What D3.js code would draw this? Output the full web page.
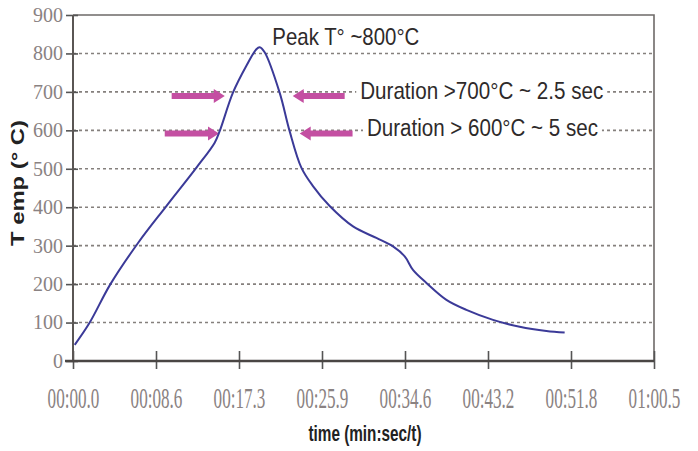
<!DOCTYPE html>
<html>
<head>
<meta charset="utf-8">
<script src="https://cdn.jsdelivr.net/npm/d3@7"></script>
<style>
  html, body { margin: 0; padding: 0; background: #fff; }
  svg { display: block; }
</style>
</head>
<body>
<svg id="chart" width="698" height="451"></svg>
<script>
// temperature trace (time in s, temp in °C)
const timeSec = [0.18, 1.74, 3.85, 6.77, 9.72, 12.85, 14.75, 15.27, 16.65, 18.05, 19.09, 19.43, 19.95,
  21.51, 22.55, 23.77, 24.98, 26.72, 29.15, 31.58, 33.31, 34.53, 35.39, 36.79, 38.87, 40.95, 43.72,
  46.5, 49.28, 51.18];
const tempC = [42, 100, 198, 307, 403, 503, 568, 598, 698, 768, 811, 816, 803,
  698, 598, 503, 455, 403, 350, 320, 298, 272, 237, 203, 159, 133, 107,
  89, 78, 74];

// Excel-style time axis: one tick per 0.0001 day
const xTickValues = [0, 8.64, 17.28, 25.92, 34.56, 43.2, 51.84, 60.48];
const xTickLabels = ['00:00.0', '00:08.6', '00:17.3', '00:25.9', '00:34.6', '00:43.2', '00:51.8', '01:00.5'];
const yTickValues = [0, 100, 200, 300, 400, 500, 600, 700, 800, 900];

// annotation arrows: [from time, to time (tip), temp]
const arrows = [
  [10.27, 15.8, 689],
  [28.28, 22.87, 689],
  [9.55, 15.2, 592],
  [29.1, 23.6, 592]
];
const notes = [
  { text: 'Peak T\u00b0 ~800\u00b0C', t: 20.75, v: 823, len: 147, size: 24, box: false },
  { text: 'Duration >700\u00b0C ~ 2.5 sec', t: 29.9, v: 681, len: 243, size: 24, box: true },
  { text: 'Duration > 600\u00b0C ~ 5 sec', t: 30.6, v: 585, len: 231, size: 23, box: true }
];

const W = 698, H = 451;
const margin = { top: 15, right: 44, bottom: 90, left: 73 };
const iw = W - margin.left - margin.right;
const ih = H - margin.top - margin.bottom;

const svg = d3.select('#chart');
const g = svg.append('g').attr('transform', `translate(${margin.left},${margin.top})`);

const x = d3.scaleLinear().domain([0, 60.48]).range([0, iw]);
const y = d3.scaleLinear().domain([0, 900]).range([ih, 0]);

// --- Grid ---
g.append('g').selectAll('line')
  .data(yTickValues.filter(v => v > 0 && v < 900))
  .join('line')
  .attr('x1', 0).attr('x2', iw)
  .attr('y1', d => y(d)).attr('y2', d => y(d))
  .attr('stroke', '#85807d').attr('stroke-width', 1.6)
  .attr('stroke-dasharray', '3,3');

// frame top/right
g.append('path')
  .attr('d', `M0,0H${iw}V${ih}`)
  .attr('fill', 'none').attr('stroke', '#6e6a68').attr('stroke-width', 1.6);

// --- Arrows ---
const arrowColor = '#c44fa2';
arrows.forEach(([t0, t1, v]) => {
  const x0 = x(t0), x1 = x(t1), yy = y(v);
  const dir = x1 > x0 ? 1 : -1;
  const hl = 11, hh = 7, bw = 3;
  const xb = x1 - dir * hl;
  g.append('path')
    .attr('d', `M${x0},${yy - bw}L${xb},${yy - bw}L${xb},${yy - hh}L${x1},${yy}L${xb},${yy + hh}L${xb},${yy + bw}L${x0},${yy + bw}Z`)
    .attr('fill', arrowColor);
});

// --- Line ---
const pts = timeSec.map((t, i) => [t, tempC[i]]);
g.append('path')
  .datum(pts)
  .attr('fill', 'none')
  .attr('stroke', '#3b3a98')
  .attr('stroke-width', 2)
  .attr('stroke-linejoin', 'round')
  .attr('d', d3.line().x(d => x(d[0])).y(d => y(d[1])).curve(d3.curveCatmullRom.alpha(0.5)));

// --- Axes ---
const serif = '"Liberation Serif", "DejaVu Serif", serif';
const yAxis = g.append('g').call(d3.axisLeft(y).tickValues(yTickValues).tickSize(7).tickPadding(3));
yAxis.select('.domain').remove();
yAxis.selectAll('.tick line').attr('x2', 5).attr('x1', -7).attr('stroke', '#555').attr('stroke-width', 1.6);
yAxis.selectAll('.tick text')
  .attr('font-family', serif)
  .attr('font-size', 20).attr('fill', '#8a8282')
  .attr('x', -10);

const xAxis = g.append('g').attr('transform', `translate(0,${ih})`)
  .call(d3.axisBottom(x).tickValues(xTickValues).tickFormat((d, i) => xTickLabels[i]).tickSize(8));
xAxis.select('.domain').remove();
xAxis.selectAll('.tick line').attr('y1', -10).attr('y2', 8).attr('stroke', '#555').attr('stroke-width', 1.6);
xAxis.selectAll('.tick text')
  .attr('font-family', serif)
  .attr('font-size', 29).attr('fill', '#8a8282')
  .attr('y', 0).attr('dy', null)
  .attr('transform', 'translate(0,47) scale(0.59,1)');

// axis lines
g.append('line').attr('x1', 0).attr('x2', 0).attr('y1', 0).attr('y2', ih)
  .attr('stroke', '#5a5654').attr('stroke-width', 2);
g.append('line').attr('x1', -8).attr('x2', iw).attr('y1', ih).attr('y2', ih)
  .attr('stroke', '#4a4644').attr('stroke-width', 2.4);

// --- Annotations ---
const noteG = g.append('g');
notes.forEach(n => {
  const nx = x(n.t), ny = y(n.v);
  if (n.box) {
    noteG.append('rect')
      .attr('x', nx - 4).attr('y', ny - n.size * 0.8)
      .attr('width', n.len + 8).attr('height', n.size)
      .attr('fill', '#fff');
  }
  noteG.append('text')
    .attr('x', nx).attr('y', ny)
    .attr('font-family', '"Liberation Sans", Arial, sans-serif')
    .attr('font-size', n.size).attr('fill', '#2e2a2a')
    .attr('textLength', n.len).attr('lengthAdjust', 'spacingAndGlyphs')
    .text(n.text);
});

// --- Titles ---
svg.append('text')
  .attr('transform', `translate(24,183) rotate(-90)`)
  .attr('text-anchor', 'middle')
  .attr('font-family', '"Liberation Sans", Arial, sans-serif')
  .attr('font-weight', 'bold').attr('font-size', 19).attr('fill', '#222')
  .attr('textLength', 126).attr('lengthAdjust', 'spacingAndGlyphs')
  .text('T emp (\u00b0 C)');

svg.append('text')
  .attr('x', 365).attr('y', 441)
  .attr('text-anchor', 'middle')
  .attr('font-family', '"Liberation Sans", Arial, sans-serif')
  .attr('font-weight', 'bold').attr('font-size', 22).attr('fill', '#222')
  .attr('textLength', 113).attr('lengthAdjust', 'spacingAndGlyphs')
  .text('time (min:sec/t)');
</script>
</body>
</html>
